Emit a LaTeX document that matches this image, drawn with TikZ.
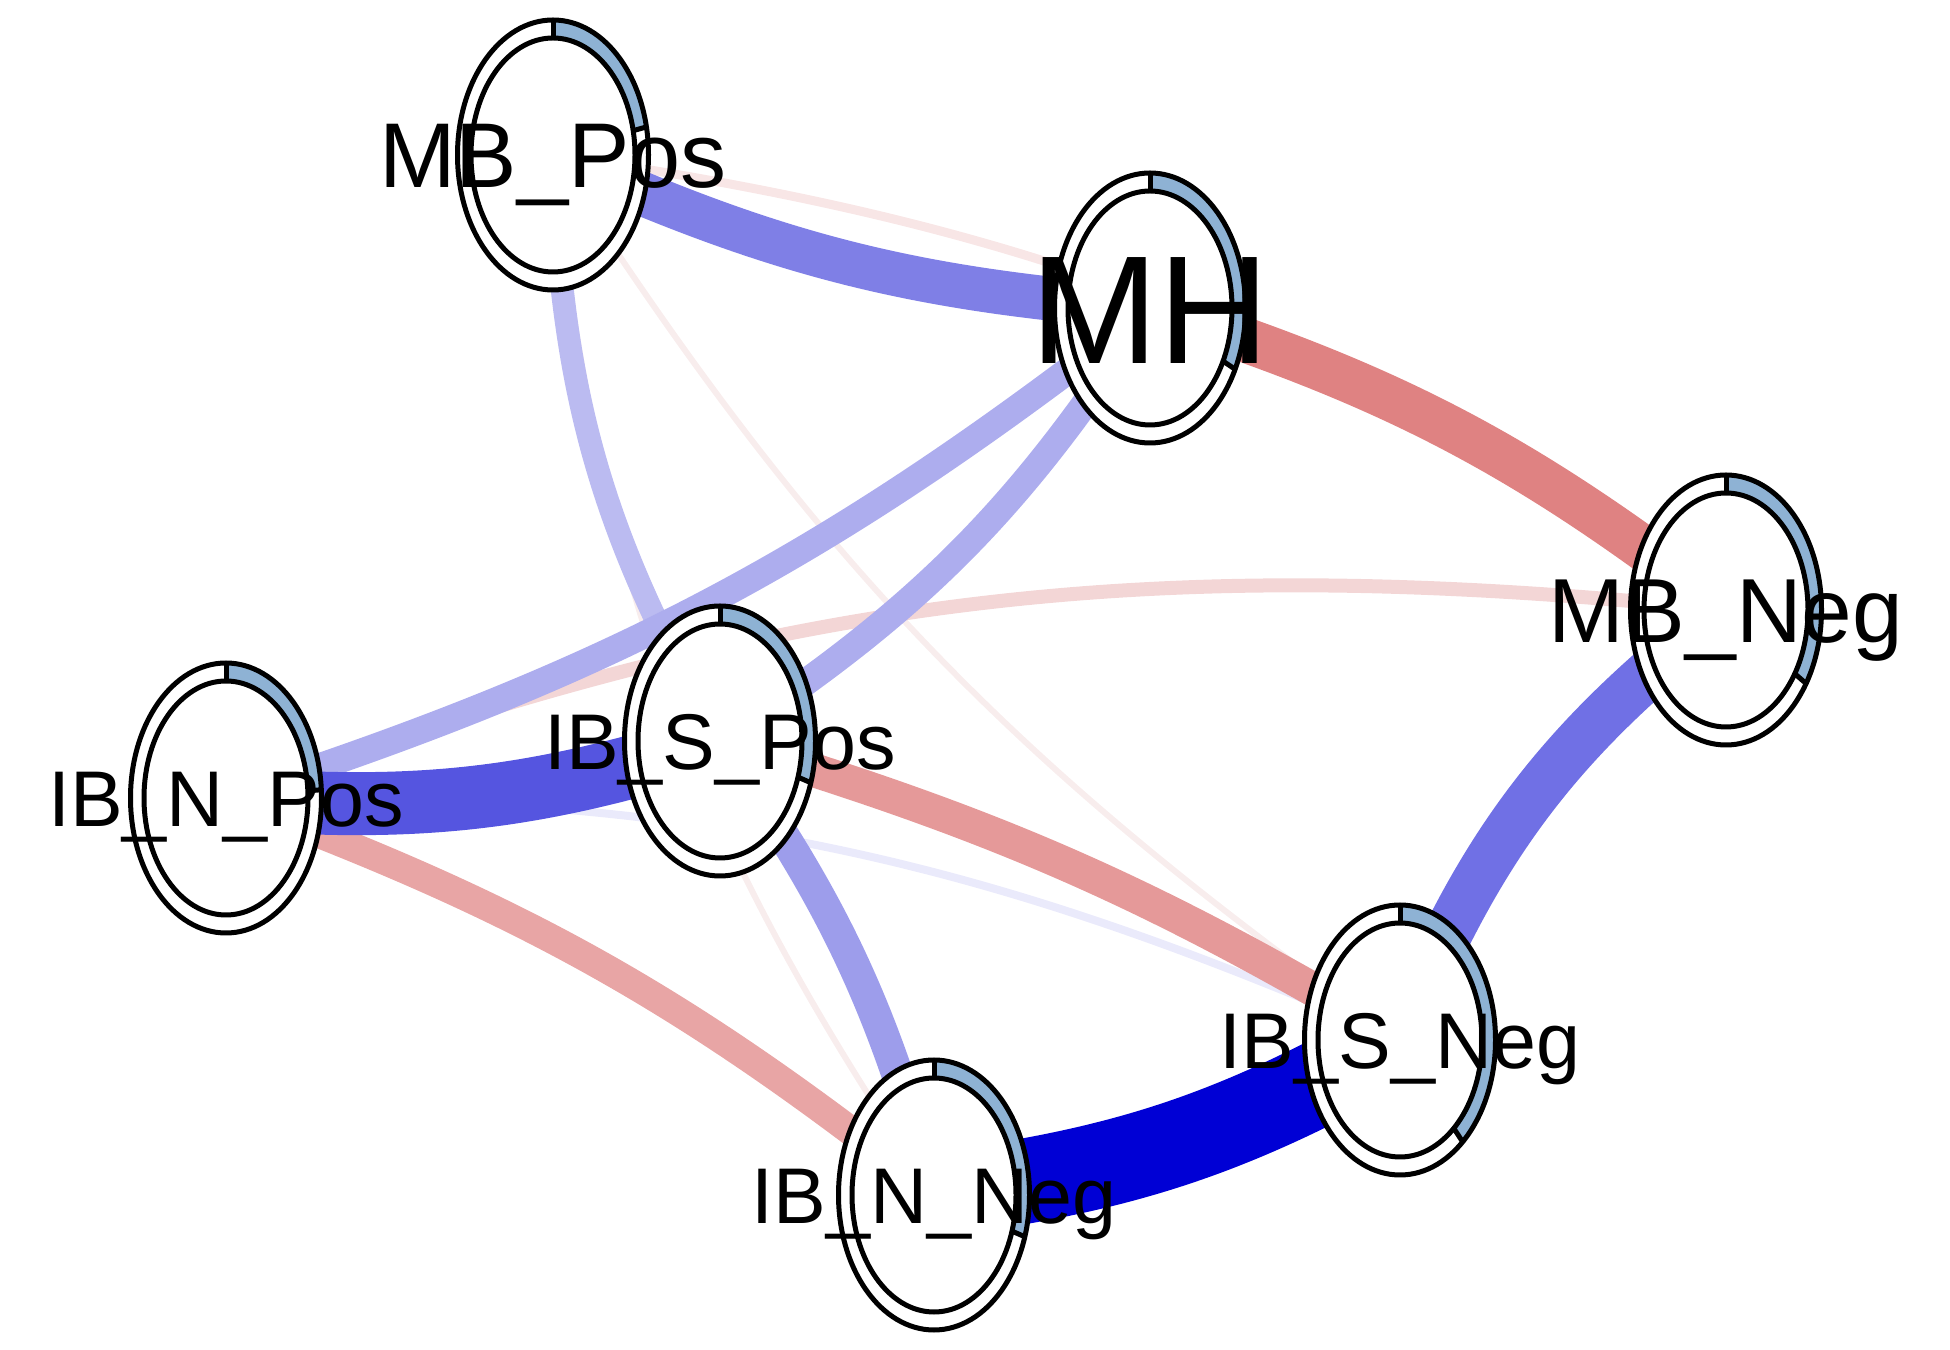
\documentclass[tikz,border=0pt]{standalone}
\usepackage{fontspec}
\setmainfont{Liberation Sans}
\usetikzlibrary{calc}
\definecolor{pieblue}{HTML}{8EB2D4}
\definecolor{cA}{HTML}{0000D5}
\definecolor{cB}{HTML}{5555E0}
\definecolor{cC}{HTML}{7070E5}
\definecolor{cD}{HTML}{7F7FE6}
\definecolor{cE}{HTML}{9D9DEB}
\definecolor{cF}{HTML}{ADADEE}
\definecolor{cG}{HTML}{BBBBF1}
\definecolor{cH}{HTML}{EAEAFB}
\definecolor{rA}{HTML}{DF8282}
\definecolor{rB}{HTML}{E59999}
\definecolor{rC}{HTML}{E8A5A5}
\definecolor{rD}{HTML}{F3D6D6}
\definecolor{rE}{HTML}{F8E6E6}
\definecolor{rF}{HTML}{F8EDED}
\newcommand\piering[2]{%
  \fill[white] (#1) ellipse[x radius=95.5, y radius=135];
  \fill[pieblue] ($(#1)+(0,135)$) arc[start angle=90, end angle=#2, x radius=95.5, y radius=135]
     -- ($(#1)+(#2:82 and 117)$) arc[start angle=#2, end angle=90, x radius=82, y radius=117] -- cycle;
  \draw[ringline] (#1) ellipse[x radius=95.5, y radius=135];
  \draw[ringline] (#1) ellipse[x radius=82, y radius=117];
  \draw[ringline] ($(#1)+(0,117)$) -- ($(#1)+(0,135)$);
  \draw[ringline] ($(#1)+(#2:82 and 117)$) -- ($(#1)+(#2:95.5 and 135)$);
}
\tikzset{
  edge/.style={line cap=butt, line width={#1*0.25pt}},
  ringline/.style={line width=1.25pt, black},
  lab/.style 2 args={inner sep=0pt, text depth=0pt, text height=#2pt,
              font=\fontsize{#1pt}{#1pt}\selectfont}
}
\begin{document}
\begin{tikzpicture}[x=0.25pt,y=0.25pt]
\useasboundingbox (0,0) rectangle (1950,1350);
\coordinate (MBP) at (553,1195);
\coordinate (MH)  at (1150,1042);
\coordinate (MBN) at (1726,740);
\coordinate (ISP) at (720,609);
\coordinate (INP) at (226,552);
\coordinate (ISN) at (1400,310);
\coordinate (INN) at (934,155);
% edges, weakest first
\draw[edge=6, rF] (MBP) to[bend right=11] (ISN);
\draw[edge=6, rF] (MBP) to[bend right=14] (INN);
\draw[edge=9, rE] (MBP) to[bend left=13] (MBN);
\draw[edge=8, cH] (INP) to[bend left=12] (ISN);
\draw[edge=14, rD] (INP) to[bend left=13] (MBN);
\draw[edge=23, cG] (MBP) to[bend right=14] (ISP);
\draw[edge=29, rC] (INP) to[bend left=9] (INN);
\draw[edge=27, cF] (MH) to[bend left=10] (INP);
\draw[edge=27, cF] (MH) to[bend left=12] (ISP);
\draw[edge=34, rB] (ISP) to[bend left=7] (ISN);
\draw[edge=32, cE] (ISP) to[bend left=10] (INN);
\draw[edge=45, rA] (MH) to[bend left=10] (MBN);
\draw[edge=44, cD] (MBP) to[bend right=10] (MH);
\draw[edge=49, cC] (MBN) to[bend right=15] (ISN);
\draw[edge=63, cB] (INP) to[bend right=11] (ISP);
\draw[edge=85, cA] (INN) to[bend right=11] (ISN);
% nodes
\piering{MBP}{12}
\piering{MH}{-27}
\piering{MBN}{-33}
\piering{ISP}{-18}
\piering{INP}{3.5}
\piering{ISN}{-49}
\piering{INN}{-18}
% labels
\node[lab={23}{16.47}] at (MBP) {MB\_Pos};
\node[lab={38.5}{27.57}] at (MH) {MH};
\node[lab={22.75}{16.29}] at (MBN) {MB\_Neg};
\node[lab={19.75}{14.14}] at (ISP) {IB\_S\_Pos};
\node[lab={19.75}{14.14}] at (INP) {IB\_N\_Pos};
\node[lab={19.75}{14.14}] at (ISN) {IB\_S\_Neg};
\node[lab={19.75}{14.14}] at (INN) {IB\_N\_Neg};
\end{tikzpicture}
\end{document}
